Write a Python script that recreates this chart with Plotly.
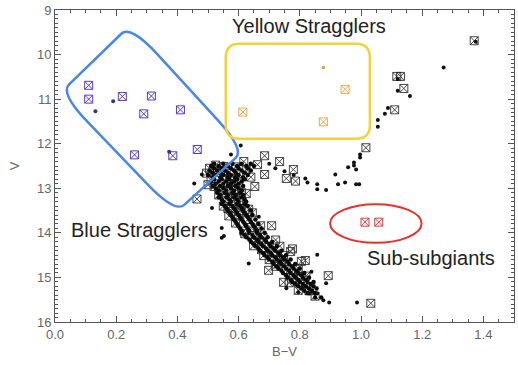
import plotly.graph_objects as go

# ---------------- data (B-V, V) ----------------
blue_sq_bv = [0.110, 0.110, 0.220, 0.315, 0.290, 0.410, 0.260, 0.385, 0.465]
blue_sq_v = [10.69, 11.00, 10.94, 10.93, 11.33, 11.24, 12.25, 12.27, 12.13]
blue_dot_bv = [0.132, 0.190, 0.373]
blue_dot_v = [11.27, 11.05, 12.18]

yel_sq_bv = [0.948, 0.614, 0.877]
yel_sq_v = [10.78, 11.29, 11.51]
yel_dot_bv = [0.877]
yel_dot_v = [10.29]

red_sq_bv = [1.013, 1.058]
red_sq_v = [13.76, 13.76]

# main-sequence rows: (V, [B-V values])
ms_rows = [
    (12.45, [0.52, 0.55, 0.58, 0.61, 0.64]),
    (12.50, [0.51, 0.535, 0.565, 0.595, 0.625, 0.65]),
    (12.55, [0.52, 0.545, 0.575, 0.60, 0.63]),
    (12.60, [0.505, 0.53, 0.555, 0.585, 0.61, 0.64]),
    (12.65, [0.515, 0.54, 0.565, 0.59, 0.62]),
    (12.70, [0.50, 0.525, 0.55, 0.575, 0.60, 0.63]),
    (12.75, [0.515, 0.54, 0.565, 0.59, 0.615]),
    (12.80, [0.52, 0.545, 0.57, 0.595, 0.62]),
    (12.85, [0.51, 0.535, 0.56, 0.585, 0.61]),
    (12.90, [0.525, 0.55, 0.575, 0.60]),
    (12.95, [0.515, 0.54, 0.565, 0.59, 0.615]),
    (13.00, [0.525, 0.55, 0.575, 0.60]),
    (13.05, [0.535, 0.56, 0.585, 0.61]),
    (13.10, [0.53, 0.555, 0.58, 0.605]),
    (13.15, [0.54, 0.565, 0.59, 0.615]),
    (13.20, [0.535, 0.56, 0.585, 0.61]),
    (13.25, [0.545, 0.57, 0.595, 0.62]),
    (13.30, [0.55, 0.575, 0.60, 0.625]),
    (13.35, [0.545, 0.57, 0.595, 0.62]),
    (13.40, [0.555, 0.58, 0.605, 0.63]),
    (13.45, [0.56, 0.585, 0.61]),
    (13.50, [0.565, 0.59, 0.615, 0.64]),
    (13.55, [0.57, 0.595, 0.62]),
    (13.60, [0.575, 0.60, 0.625, 0.645]),
    (13.65, [0.58, 0.605, 0.63]),
    (13.70, [0.585, 0.61, 0.635, 0.655]),
    (13.75, [0.59, 0.615, 0.64]),
    (13.80, [0.595, 0.62, 0.645, 0.665]),
    (13.85, [0.60, 0.625, 0.65]),
    (13.90, [0.605, 0.63, 0.655, 0.675]),
    (13.95, [0.61, 0.635, 0.66]),
    (14.00, [0.61, 0.635, 0.66, 0.685]),
    (14.05, [0.62, 0.645, 0.67]),
    (14.10, [0.625, 0.65, 0.675, 0.695]),
    (14.15, [0.635, 0.66, 0.685]),
    (14.20, [0.64, 0.665, 0.69, 0.71]),
    (14.25, [0.65, 0.675, 0.70]),
    (14.30, [0.655, 0.68, 0.705, 0.725]),
    (14.35, [0.665, 0.69, 0.715]),
    (14.40, [0.67, 0.695, 0.72, 0.74]),
    (14.45, [0.68, 0.705, 0.73]),
    (14.50, [0.685, 0.71, 0.735, 0.755]),
    (14.55, [0.695, 0.72, 0.745]),
    (14.60, [0.70, 0.725, 0.75, 0.77]),
    (14.65, [0.71, 0.735, 0.76]),
    (14.70, [0.715, 0.74, 0.765, 0.785]),
    (14.75, [0.725, 0.75, 0.775]),
    (14.80, [0.73, 0.755, 0.78, 0.80]),
    (14.85, [0.74, 0.765, 0.79]),
    (14.90, [0.745, 0.77, 0.795, 0.815]),
    (14.95, [0.755, 0.78, 0.805]),
    (15.00, [0.76, 0.785, 0.81, 0.83]),
    (15.05, [0.77, 0.795, 0.82]),
    (15.10, [0.775, 0.80, 0.825, 0.845]),
    (15.15, [0.785, 0.81, 0.835]),
    (15.20, [0.795, 0.82, 0.845]),
    (15.25, [0.805, 0.83, 0.855]),
    (15.30, [0.815, 0.84]),
    (15.35, [0.825, 0.85]),
    (15.45, [0.85, 0.87]),
]

# scattered single stars (subgiant / giant branch, outliers)
field_dots = [
    (0.607, 12.04), (0.575, 12.24), (0.480, 12.69), (0.455, 12.89), (0.513, 13.44),
    (0.545, 13.89), (0.552, 14.07), (0.545, 14.11), (0.666, 13.64), (0.633, 14.69),
    (0.857, 14.49), (0.838, 14.87), (0.886, 15.13), (0.877, 15.51), (0.896, 15.56),
    (0.987, 15.56), (0.756, 15.24), (0.795, 15.33), (0.831, 15.36), (0.857, 15.36),
    (0.808, 15.22),
    (0.818, 12.78), (0.825, 12.87), (0.857, 12.91), (0.857, 13.02), (0.886, 13.04),
    (0.916, 12.69), (0.925, 12.91), (0.948, 12.87), (0.984, 12.91), (0.994, 12.91),
    (0.958, 12.53), (0.977, 12.42), (0.977, 12.49), (0.984, 12.58), (0.997, 12.24),
    (0.997, 12.31), (0.700, 12.45), (0.720, 12.55), (0.750, 12.62), (0.780, 12.70),
    (1.055, 11.47), (1.055, 11.62), (1.078, 11.33), (1.088, 11.20), (1.160, 10.93),
    (1.270, 10.29), (1.375, 9.71), (1.120, 10.55), (1.120, 10.81),
]

field_squares = [
    (0.685, 12.27), (0.734, 12.40), (0.779, 12.58), (0.662, 12.47), (0.685, 12.69),
    (0.653, 12.96), (0.756, 12.78), (0.786, 12.84), (0.464, 13.24),
    (0.600, 12.67), (0.552, 12.51), (0.575, 12.84), (0.617, 12.40), (0.520, 12.96),
    (0.633, 13.47), (0.672, 13.84), (0.708, 13.84), (0.721, 14.16), (0.776, 14.36),
    (0.805, 14.64), (0.747, 14.51), (0.568, 13.62), (0.600, 13.29), (0.617, 13.96),
    (0.649, 14.29), (0.682, 14.51), (0.575, 13.18), (0.818, 14.62), (0.893, 14.96),
    (1.032, 15.58), (0.698, 14.84), (0.747, 15.11), (0.795, 15.29),
    (1.016, 12.09), (1.110, 11.24), (1.140, 10.76), (1.117, 10.49), (1.129, 10.49),
    (1.370, 9.69), (0.540, 12.60), (0.585, 12.95), (0.610, 13.10), (0.630, 13.70),
    (0.660, 14.05), (0.700, 14.30), (0.730, 14.70), (0.770, 14.90), (0.800, 15.05),
    (0.550, 13.40),
    (0.505, 12.55), (0.530, 12.72), (0.560, 12.62), (0.590, 12.52), (0.625, 12.58),
    (0.640, 12.75), (0.510, 12.82), (0.565, 12.90), (0.600, 12.88), (0.545, 13.05),
    (0.590, 13.22), (0.625, 13.12), (0.555, 13.28), (0.610, 13.38), (0.580, 13.52),
    (0.600, 13.60), (0.645, 13.55), (0.590, 13.78), (0.640, 13.88), (0.620, 14.02),
    (0.655, 14.18), (0.680, 14.10), (0.675, 14.38), (0.710, 14.45), (0.700, 14.60),
    (0.740, 14.60), (0.720, 14.75), (0.755, 14.82), (0.780, 15.00), (0.765, 15.12),
    (0.810, 15.15), (0.830, 15.30), (0.770, 14.42), (0.735, 14.30), (0.795, 14.80),
    (0.850, 15.42), (0.820, 14.97),
    (0.495, 12.66), (0.500, 12.92), (0.525, 12.48), (0.570, 12.78), (0.535, 13.15),
    (0.565, 13.45), (0.585, 13.05), (0.605, 13.50),
]

# region outlines (data coordinates)
blue_box = [(0.2468, 9.333), (0.6201, 12.133), (0.3929, 13.556), (0.0162, 10.867)]
blue_round = [0.24, 0.13, 0.24, 0.13]   # rounding fraction of each edge
yellow_box = (0.558, 1.029, 9.756, 11.889)
yellow_r = (0.045, 0.31)
red_ellipse = (0.899, 1.198, 13.356, 14.222)

labels = [("Yellow Stragglers", 0.831, 9.36), ("Blue Stragglers", 0.276, 13.93),
          ("Sub-subgiants", 1.23, 14.56)]

x_ticks = [0.0, 0.2, 0.4, 0.6, 0.8, 1.0, 1.2, 1.4]
y_ticks = [9, 10, 11, 12, 13, 14, 15, 16]

# ---------------- build ----------------
ms_bv = [x for v, xs in ms_rows for x in xs]
ms_v = [v for v, xs in ms_rows for x in xs]
fd_bv = [p[0] for p in field_dots]
fd_v = [p[1] for p in field_dots]
fs_bv = [p[0] for p in field_squares]
fs_v = [p[1] for p in field_squares]

fig = go.Figure()

def dots(x, y, color, size=4):
    fig.add_trace(go.Scatter(x=x, y=y, mode="markers",
                             marker=dict(symbol="circle", size=size, color=color,
                                         line=dict(width=0)),
                             showlegend=False, hoverinfo="skip"))

def squares(x, y, color, size=8):
    fig.add_trace(go.Scatter(x=x, y=y, mode="markers",
                             marker=dict(symbol="square-x-open", size=size,
                                         color=color, line=dict(width=1, color=color)),
                             showlegend=False, hoverinfo="skip"))

squares(fs_bv, fs_v, "rgba(40,40,40,0.85)")
dots(ms_bv, ms_v, "#0a0a0a", 4.5)
dots(fd_bv, fd_v, "#111")
squares(blue_sq_bv, blue_sq_v, "#5a3ccf")
dots(blue_dot_bv, blue_dot_v, "#3b2aa8", 4)
squares(yel_sq_bv, yel_sq_v, "#eda850")
dots(yel_dot_bv, yel_dot_v, "#e89a30", 3.5)
squares(red_sq_bv, red_sq_v, "#e23a3a")


def blue_path():
    n = len(blue_box)
    path = ""
    for i in range(n):
        p = blue_box[i]
        a = blue_box[i - 1]
        b = blue_box[(i + 1) % n]
        fa = blue_round[(i - 1) % n]
        fb = blue_round[i]
        s = (p[0] + (a[0] - p[0]) * fa, p[1] + (a[1] - p[1]) * fa)
        e = (p[0] + (b[0] - p[0]) * fb, p[1] + (b[1] - p[1]) * fb)
        path += ("M" if i == 0 else "L") + f"{s[0]},{s[1]} Q{p[0]},{p[1]} {e[0]},{e[1]} "
    return path + "Z"

x0, x1, y0, y1 = yellow_box
rx, ry = yellow_r
ypath = (f"M{x0+rx},{y0} L{x1-rx},{y0} Q{x1},{y0} {x1},{y0+ry} "
         f"L{x1},{y1-ry} Q{x1},{y1} {x1-rx},{y1} L{x0+rx},{y1} Q{x0},{y1} {x0},{y1-ry} "
         f"L{x0},{y0+ry} Q{x0},{y0} {x0+rx},{y0} Z")

fig.add_shape(type="path", path=blue_path(), xref="x", yref="y",
              line=dict(color="#4a86e8", width=2.5))
fig.add_shape(type="path", path=ypath, xref="x", yref="y",
              line=dict(color="#f2d23c", width=2.5))
ex0, ex1, ey0, ey1 = red_ellipse
fig.add_shape(type="circle", x0=ex0, x1=ex1, y0=ey0, y1=ey1, xref="x", yref="y",
              line=dict(color="#e8302c", width=2))

for text, lx, ly in labels:
    fig.add_annotation(x=lx, y=ly, text=text, showarrow=False, xref="x", yref="y",
                       font=dict(family="Liberation Sans, Arial, sans-serif",
                                 size=20, color="#222"))

axis_common = dict(showline=True, linecolor="#555", linewidth=1, mirror="allticks",
                   ticks="inside", tickcolor="#555", showgrid=False, zeroline=False,
                   ticklabeloverflow="allow",
                   tickfont=dict(family="Liberation Sans, Arial, sans-serif",
                                 size=13, color="#666"),
                   title_font=dict(family="Liberation Sans, Arial, sans-serif",
                                   size=13, color="#666"))

fig.update_xaxes(range=[0, 1.5], tickvals=x_ticks,
                 ticktext=[f"{t:.1f}" for t in x_ticks], ticklen=6,
                 minor=dict(dtick=0.05, ticklen=3, ticks="inside", tickcolor="#555"),
                 title_text="B\u2212V", title_standoff=6, **axis_common)
fig.update_yaxes(range=[16, 9], tickvals=y_ticks,
                 ticktext=[str(t) for t in y_ticks], ticklen=6,
                 minor=dict(dtick=0.1, ticklen=3, ticks="inside", tickcolor="#555"),
                 title_text="V", title_standoff=14, **axis_common)

fig.update_layout(width=518, height=365, margin=dict(l=55, r=3, t=7, b=43),
                  paper_bgcolor="white", plot_bgcolor="white")

fig.write_html("out.html")
